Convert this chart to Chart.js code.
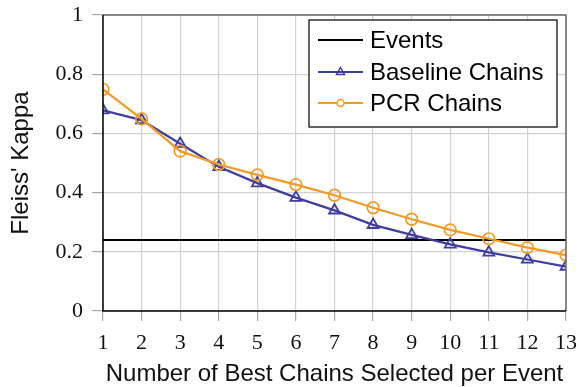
<!DOCTYPE html>
<html>
<head>
<meta charset="utf-8">
<script src="https://cdn.jsdelivr.net/npm/chart.js@4"></script>
<style>
html,body{margin:0;padding:0;background:#fff;}
#wrap{width:579px;height:387px;position:relative;}
</style>
</head>
<body>
<div id="wrap"><canvas id="c" width="579" height="387"></canvas></div>
<script>
const xValues = [1,2,3,4,5,6,7,8,9,10,11,12,13];
const eventsValue = 0.24;
const baselineValues = [0.678,0.645,0.565,0.487,0.432,0.383,0.340,0.291,0.257,0.225,0.198,0.174,0.150];
const pcrValues = [0.749,0.649,0.540,0.495,0.460,0.427,0.391,0.349,0.310,0.274,0.244,0.214,0.189];
const yTicks = [0,0.2,0.4,0.6,0.8,1];
const seriesLabels = ['Events','Baseline Chains','PCR Chains'];
const xTitle = 'Number of Best Chains Selected per Event';
const yTitle = "Fleiss' Kappa";

const BLUE = '#3e3e9e';
const ORANGE = '#f39a25';
const SANS = '"Liberation Sans", Arial, sans-serif';
const SERIF = '"Liberation Serif", "DejaVu Serif", serif';

const toPts = arr => arr.map((v,i)=>({x:xValues[i], y:v}));

const frameLegend = {
  id:'frameLegend',
  afterDatasetsDraw(chart){
    const {ctx, chartArea:a} = chart;
    ctx.save();
    ctx.lineWidth = 1.5;
    ctx.strokeStyle = '#6a6a6a';
    ctx.beginPath();
    ctx.moveTo(a.left, a.top); ctx.lineTo(a.right, a.top); ctx.lineTo(a.right, a.bottom);
    ctx.stroke();
    ctx.strokeStyle = '#000';
    ctx.beginPath();
    ctx.moveTo(a.left, a.top); ctx.lineTo(a.left, a.bottom); ctx.lineTo(a.right, a.bottom);
    ctx.stroke();
    // legend box
    const bx = 309, by = 20, bw = 248, bh = 107;
    ctx.fillStyle = '#fff';
    ctx.fillRect(bx, by, bw, bh);
    ctx.lineWidth = 1.3;
    ctx.strokeStyle = '#111';
    ctx.strokeRect(bx, by, bw, bh);
    const ds = chart.data.datasets;
    const rows = [40, 72, 103];
    ctx.font = '24px ' + SANS;
    ctx.textBaseline = 'middle';
    ctx.textAlign = 'left';
    ds.forEach((d, i) => {
      const y = rows[i];
      ctx.strokeStyle = d.borderColor;
      ctx.lineWidth = 2;
      ctx.beginPath(); ctx.moveTo(318, y); ctx.lineTo(363, y); ctx.stroke();
      ctx.lineWidth = 1.5;
      if (d.pointStyle === 'circle' && d.pointRadius > 0) {
        ctx.beginPath(); ctx.arc(340.5, y, 3.5, 0, Math.PI*2); ctx.fillStyle='#fff'; ctx.fill(); ctx.stroke();
      } else if (d.pointStyle === 'triangle' && d.pointRadius > 0) {
        ctx.beginPath(); ctx.moveTo(340.5, y-4.5); ctx.lineTo(344.5, y+2.5); ctx.lineTo(336.5, y+2.5); ctx.closePath(); ctx.stroke();
      }
      ctx.fillStyle = '#000';
      ctx.fillText(d.label, 370, y + 1);
    });
    ctx.restore();
  }
};

new Chart(document.getElementById('c'), {
  type:'line',
  data:{
    datasets:[
      {label:seriesLabels[0], data:xValues.map(x=>({x, y:eventsValue})), borderColor:'#000', borderWidth:2, pointRadius:0, order:2},
      {label:seriesLabels[1], data:toPts(baselineValues), borderColor:BLUE, borderWidth:2.2, pointStyle:'triangle', pointRadius:6.3, pointBorderWidth:1.8, pointBackgroundColor:'rgba(0,0,0,0)', order:1},
      {label:seriesLabels[2], data:toPts(pcrValues), borderColor:ORANGE, borderWidth:2.2, pointStyle:'circle', pointRadius:5.8, pointBorderWidth:1.7, pointBackgroundColor:'rgba(0,0,0,0)', order:0}
    ]
  },
  options:{
    responsive:false,
    animation:false,
    devicePixelRatio:1,
    layout:{padding:{top:15, right:13, left:0, bottom:0}},
    plugins:{legend:{display:false}, tooltip:{enabled:false}},
    elements:{line:{tension:0}},
    scales:{
      x:{
        type:'linear', min:1, max:13,
        afterBuildTicks(s){ s.ticks = xValues.map(v=>({value:v})); },
        afterFit(s){ s.height = 76; s.paddingLeft = 0; s.paddingRight = 0; },
        border:{display:false},
        grid:{color:'#d2d2d2', lineWidth:1.2, tickLength:10, tickColor:'#a8a8a8'},
        ticks:{font:{family:SERIF, size:22}, color:'#111', padding:9, autoSkip:false, maxRotation:0},
        title:{display:true, text:xTitle, font:{family:SANS, size:24}, color:'#111', padding:{top:0,bottom:-2}}
      },
      y:{
        min:0, max:1,
        afterBuildTicks(s){ s.ticks = yTicks.map(v=>({value:v})); },
        afterFit(s){ s.width = 103; s.paddingTop = 0; s.paddingBottom = 0; },
        border:{display:false},
        grid:{color:'#d2d2d2', lineWidth:1.2, tickLength:11, tickColor:'#a8a8a8'},
        ticks:{font:{family:SERIF, size:22}, color:'#111', padding:9, callback:v=>String(+v.toFixed(1))},
        title:{display:true, text:yTitle, font:{family:SANS, size:24}, color:'#111', padding:{top:7,bottom:0}}
      }
    }
  },
  plugins:[frameLegend]
});
</script>
</body>
</html>
